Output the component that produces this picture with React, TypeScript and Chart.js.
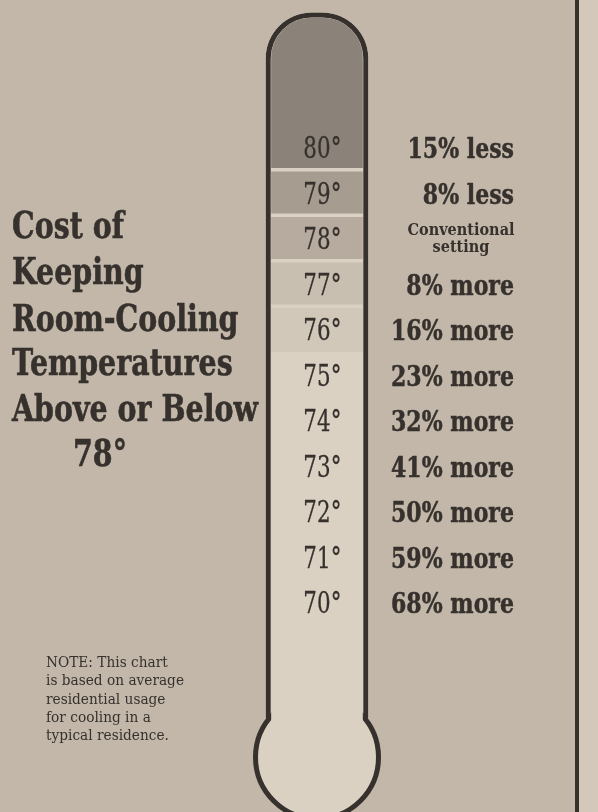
import React, { useEffect, useRef } from 'react';
import { Chart, registerables } from 'chart.js';

Chart.register(...registerables);

// ---- data ----
const temperatures = [80, 79, 78, 77, 76, 75, 74, 73, 72, 71, 70];
const costChange = [-15, -8, 0, 8, 16, 23, 32, 41, 50, 59, 68];
const conventionalLabel = ['Conventional', 'setting'];
const titleLines = ['Cost of', 'Keeping', 'Room-Cooling', 'Temperatures', 'Above or Below', '78°'];
const noteLines = [
  'NOTE: This chart',
  'is based on average',
  'residential usage',
  'for cooling in a',
  'typical residence.',
];
const category = ['thermometer'];

// ---- scale / shape (in degrees) ----
const Y_MIN = 65.385;
const Y_MAX = 83.231;
const TUBE_TOP = 82.95;
const TUBE_INNER_TOP = 82.835;
const TUBE_BOTTOM = 67.45;
const BULB_CENTER = 66.59;
const BULB_COVER_TOP = 68.1;

// ---- styles ----
const INK = '#36312d';
const BG = '#c2b7a9';
const BG_RIGHT = '#d3c8b9';
const TUBE_FILL = '#dbd1c3';
const bandColors = ['#8b8379', '#a69c90', '#b6ab9e', '#c9bfb1', '#d2c8ba', TUBE_FILL, TUBE_FILL, TUBE_FILL, TUBE_FILL, TUBE_FILL, TUBE_FILL];
const bandGaps = [0.045, 0.045, 0.045, 0.045, 0, 0, 0, 0, 0, 0, 0];

function costText(v: number) {
  if (v < 0) return `${-v}% less`;
  return `${v}% more`;
}

function bandRange(i: number): [number, number] {
  const t = temperatures[i];
  const g = bandGaps[i];
  const gUp = i > 0 ? bandGaps[i - 1] : 0;
  const high = i === 0 ? TUBE_INNER_TOP : t + 0.5 - gUp;
  const low = t - 0.5 + g;
  return [low, high];
}

function fitScale(ctx: CanvasRenderingContext2D, font: string, ref: string, target: number) {
  ctx.font = font;
  const w = ctx.measureText(ref).width;
  return w > 0 ? target / w : 1;
}

function drawScaled(ctx: CanvasRenderingContext2D, text: string, x: number, y: number, align: CanvasTextAlign, sx: number, stroke = 0) {
  ctx.save();
  ctx.translate(x, y);
  ctx.scale(sx, 1);
  ctx.textAlign = align;
  ctx.textBaseline = 'alphabetic';
  ctx.fillText(text, 0, 0);
  if (stroke > 0) {
    ctx.lineWidth = stroke;
    ctx.strokeStyle = ctx.fillStyle;
    ctx.lineJoin = 'round';
    ctx.strokeText(text, 0, 0);
  }
  ctx.restore();
}

const backgroundPlugin = {
  id: 'newsprint',
  beforeDraw(chart: any) {
    const { ctx, width, height } = chart;
    ctx.save();
    ctx.fillStyle = BG;
    ctx.fillRect(0, 0, width, height);
    ctx.fillStyle = BG_RIGHT;
    ctx.fillRect(579, 0, width - 579, height);
    ctx.fillStyle = INK;
    ctx.fillRect(575, 0, 4, height);
    ctx.restore();
  },
};

const textPlugin = {
  id: 'thermoText',
  afterDatasetsDraw(chart: any) {
    const { ctx } = chart;
    const y = chart.scales.y;
    const x = chart.scales.x;
    const cx = x.getPixelForValue(0);
    ctx.save();
    ctx.fillStyle = INK;

    // tube labels
    const tubeFont = '30px "DejaVu Serif", serif';
    const sTube = fitScale(ctx, tubeFont, '75°', 38);
    temperatures.forEach((t) => {
      ctx.font = tubeFont;
      const numW = ctx.measureText(String(t)).width * sTube;
      drawScaled(ctx, `${t}°`, cx - numW / 2, y.getPixelForValue(t) + 11, 'left', sTube, 0.3);
    });

    // cost labels
    const costFont = 'bold 27px "DejaVu Serif", serif';
    const sCost = fitScale(ctx, costFont, '68% more', 123);
    const smallFont = 'bold 17px "DejaVu Serif", serif';
    const sSmall = fitScale(ctx, smallFont, 'Conventional', 107);
    temperatures.forEach((t, i) => {
      const py = y.getPixelForValue(t);
      if (costChange[i] === 0) {
        ctx.font = smallFont;
        drawScaled(ctx, conventionalLabel[0], cx + 144, py - 3, 'center', sSmall);
        drawScaled(ctx, conventionalLabel[1], cx + 144, py + 14, 'center', sSmall);
      } else {
        ctx.font = costFont;
        drawScaled(ctx, costText(costChange[i]), cx + 197, py + 11, 'right', sCost, 0.5);
      }
    });

    // title
    const titleFont = 'bold 37px "DejaVu Serif", serif';
    const sTitle = fitScale(ctx, titleFont, 'Above or Below', 246);
    const titleBase = [238, 284, 331, 375, 421, 466];
    titleLines.forEach((line, i) => {
      ctx.font = titleFont;
      const lx = i === titleLines.length - 1 ? 73 : 12;
      drawScaled(ctx, line, lx, titleBase[i], 'left', sTitle, 0.6);
    });

    // note
    const noteFont = '14px "DejaVu Serif", serif';
    const sNote = fitScale(ctx, noteFont, noteLines[1], 138);
    noteLines.forEach((line, i) => {
      ctx.font = noteFont;
      drawScaled(ctx, line, 46, 667 + i * 18.3, 'left', sNote);
    });

    ctx.restore();
  },
};

export default function App() {
  const ref = useRef<HTMLCanvasElement | null>(null);

  useEffect(() => {
    if (!ref.current) return;
    document.body.style.margin = '0';

    const bandDatasets = temperatures.map((t, i) => ({
      type: 'bar' as const,
      label: `${t}°`,
      data: [bandRange(i)],
      backgroundColor: bandColors[i],
      borderWidth: 0,
      borderSkipped: 'bottom' as const,
      borderRadius: i === 0 ? { topLeft: 40, topRight: 40, bottomLeft: 0, bottomRight: 0 } : 0,
      barThickness: 91,
      grouped: false,
      order: 1,
    }));

    const chart = new Chart(ref.current, {
      type: 'bar',
      data: {
        labels: category,
        datasets: [
          ...bandDatasets,
          {
            type: 'bar',
            label: 'cover',
            data: [[BULB_CENTER, BULB_COVER_TOP]],
            backgroundColor: TUBE_FILL,
            borderWidth: 0,
            barThickness: 91,
            grouped: false,
            order: 2,
          } as any,
          {
            type: 'scatter',
            label: 'bulb',
            data: [{ x: 0, y: BULB_CENTER }],
            backgroundColor: TUBE_FILL,
            borderColor: INK,
            borderWidth: 5,
            pointRadius: 61.5,
            pointHoverRadius: 61.5,
            clip: false,
            order: 3,
          } as any,
          {
            type: 'bar',
            label: 'tube',
            data: [[TUBE_BOTTOM, TUBE_TOP]],
            backgroundColor: TUBE_FILL,
            borderColor: INK,
            borderWidth: 5,
            borderSkipped: 'bottom',
            borderRadius: { topLeft: 46, topRight: 46, bottomLeft: 0, bottomRight: 0 },
            barThickness: 102,
            grouped: false,
            order: 4,
          } as any,
        ],
      },
      options: {
        animation: false,
        responsive: false,
        events: [],
        layout: { autoPadding: false, padding: { left: 36, right: 0, top: 0, bottom: 0 } },
        plugins: { legend: { display: false }, tooltip: { enabled: false }, title: { display: false } },
        scales: {
          x: { type: 'category', display: false, offset: true },
          y: { type: 'linear', display: false, min: Y_MIN, max: Y_MAX },
        },
      },
      plugins: [backgroundPlugin, textPlugin],
    });

    return () => chart.destroy();
  }, []);

  return (
    <div style={{ position: 'fixed', left: 0, top: 0, width: 598, height: 812 }}>
      <canvas ref={ref} width={598} height={812} style={{ display: 'block', width: 598, height: 812 }} />
    </div>
  );
}
